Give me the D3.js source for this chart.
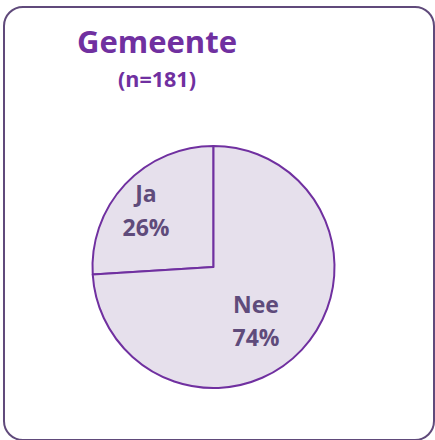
<!DOCTYPE html>
<html lang="nl">
<head>
  <meta charset="UTF-8">
  <title>Gemeente</title>
  <script src="https://d3js.org/d3.v7.min.js"></script>
  <style>
    body { margin: 0; background: #fff; }
  </style>
</head>
<body>
  <script>
    // chart data
    const title = "Gemeente";
    const subtitle = "(n=181)";
    const categories = ["Ja", "Nee"];
    const values = [26, 74];

    const width = 435;
    const height = 440;

    const svg = d3.select("body")
      .append("svg")
      .attr("width", width)
      .attr("height", height)
      .style("font-family", "'Open Sans', sans-serif");

    // rounded frame
    svg.append("rect")
      .attr("x", 4)
      .attr("y", 7)
      .attr("width", 430)
      .attr("height", 433)
      .attr("rx", 19)
      .attr("fill", "#fff")
      .attr("stroke", "#604a7b")
      .attr("stroke-width", 2);

    // titles
    svg.append("text")
      .attr("x", 157)
      .attr("y", 53)
      .attr("text-anchor", "middle")
      .attr("font-size", 31)
      .attr("font-weight", "bold")
      .attr("fill", "#7030a0")
      .text(title);

    svg.append("text")
      .attr("x", 157)
      .attr("y", 87)
      .attr("text-anchor", "middle")
      .attr("font-size", 21.5)
      .attr("font-weight", "bold")
      .attr("fill", "#7030a0")
      .text(subtitle);

    // pie
    const cx = 213.5, cy = 267, r = 121;
    const total = d3.sum(values);
    const start = -2 * Math.PI * values[0] / total;

    const pie = d3.pie()
      .sort(null)
      .startAngle(start)
      .endAngle(start + 2 * Math.PI);

    const arcs = pie(values);
    const arc = d3.arc().innerRadius(0).outerRadius(r);
    const labelArc = d3.arc().innerRadius(r * 0.72).outerRadius(r * 0.72);

    // small nudges so labels sit where the original puts them
    const nudge = [[-4, 3], [-21, -6]];

    const g = svg.append("g").attr("transform", `translate(${cx},${cy})`);

    g.selectAll("path")
      .data(arcs)
      .enter()
      .append("path")
      .attr("d", arc)
      .attr("fill", "#e6e0ec")
      .attr("stroke", "#7030a0")
      .attr("stroke-width", 2)
      .attr("stroke-linejoin", "round");

    const labels = g.selectAll("text.lbl")
      .data(arcs)
      .enter()
      .append("text")
      .attr("class", "lbl")
      .attr("text-anchor", "middle")
      .attr("font-size", 23)
      .attr("font-weight", "bold")
      .attr("fill", "#5f4b7b")
      .attr("transform", (d, i) => {
        const c = labelArc.centroid(d);
        return `translate(${c[0] + nudge[i][0]},${c[1] + nudge[i][1]})`;
      });

    labels.append("tspan")
      .attr("x", 0)
      .attr("dy", "-0.35em")
      .text((d, i) => categories[i]);

    labels.append("tspan")
      .attr("x", 0)
      .attr("dy", "1.45em")
      .text(d => Math.round(d.value / total * 100) + "%");
  </script>
</body>
</html>
